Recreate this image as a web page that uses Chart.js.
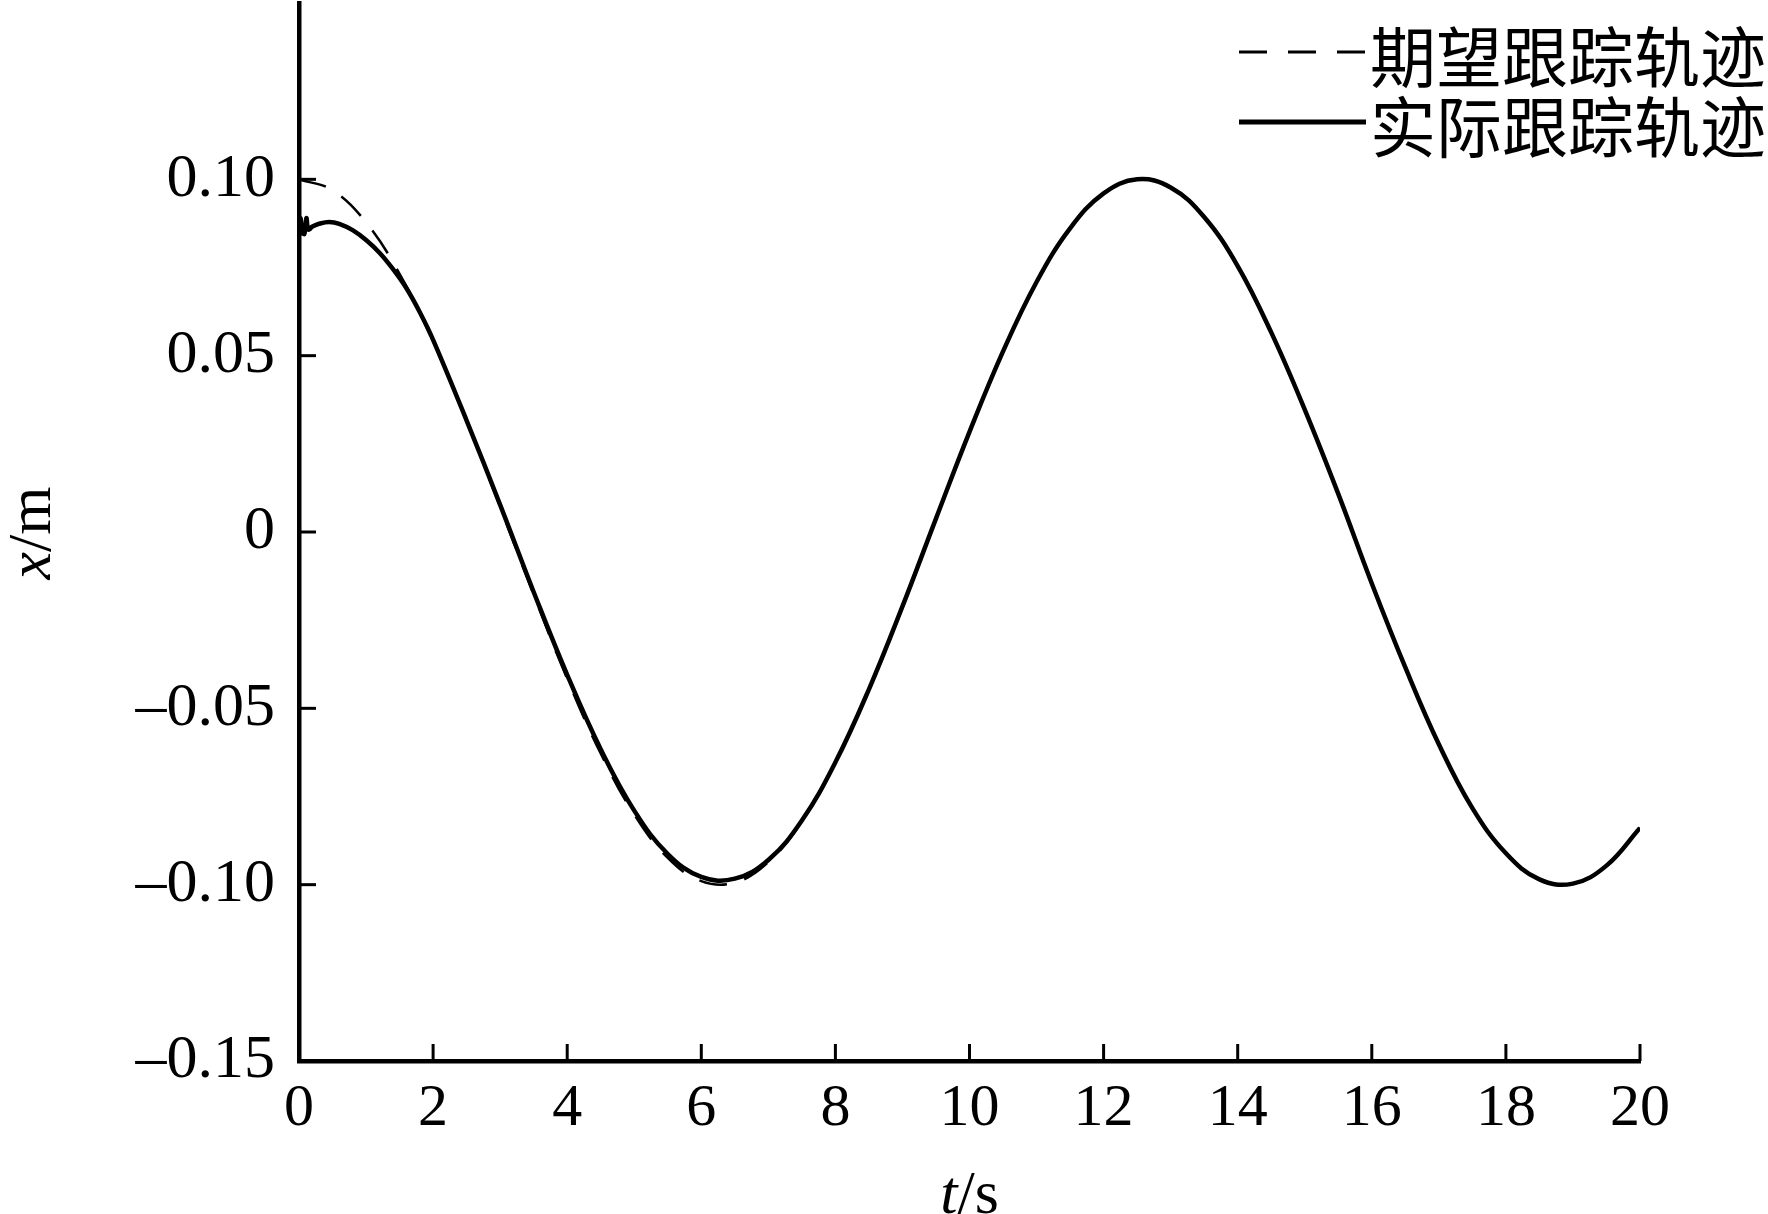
<!DOCTYPE html>
<html lang="zh">
<head>
<meta charset="utf-8">
<title>x 跟踪轨迹</title>
<script src="https://cdn.jsdelivr.net/npm/chart.js@4.4.1/dist/chart.umd.min.js"></script>
<style>
  html, body { margin: 0; padding: 0; background: #fff; }
  #wrap { width: 1768px; height: 1214px; }
</style>
</head>
<body>
<div id="wrap"><canvas id="trackChart" width="1768" height="1214"></canvas></div>
<script>
// desired trajectory (t in s, x in m)
const timeDesired = [0, 0.5, 1, 1.5, 2, 2.5, 3, 3.5, 4, 4.5, 5, 5.5, 6, 6.5, 7, 7.5, 8, 8.5, 9, 9.5,
    10, 10.5, 11, 11.5, 12, 12.5, 13, 13.5, 14, 14.5, 15, 15.5, 16, 16.5, 17, 17.5, 18, 18.5, 19, 19.5, 20];
const desiredX = [0.1000, 0.0969, 0.0878, 0.0732, 0.0540, 0.0315, 0.0071, -0.0178, -0.0416, -0.0628,
    -0.0801, -0.0924, -0.0990, -0.0994, -0.0936, -0.0821, -0.0654, -0.0446, -0.0211, 0.0038,
    0.0284, 0.0512, 0.0709, 0.0861, 0.0960, 0.1000, 0.0977, 0.0893, 0.0754, 0.0566,
    0.0347, 0.0108, -0.0146, -0.0384, -0.0602, -0.0783, -0.0911, -0.0985, -0.0997, -0.0946, -0.0839];

// actual trajectory (small wobble at start, then converges)
const timeActual = [0, 0.02, 0.05, 0.08, 0.11, 0.14, 0.2, 0.3, 0.45, 0.6, 0.8, 1.0, 1.2, 1.4, 1.6, 1.8,
    2, 2.5, 3, 3.5, 4, 4.5, 5, 5.5, 6, 6.5, 7, 7.5, 8, 8.5, 9, 9.5,
    10, 10.5, 11, 11.5, 12, 12.5, 13, 13.5, 14, 14.5, 15, 15.5, 16, 16.5, 17, 17.5, 18, 18.5, 19, 19.5, 20];
const actualX = [0.0840, 0.0890, 0.0850, 0.0845, 0.0890, 0.0858, 0.0866, 0.0874, 0.0879, 0.0874,
    0.0856, 0.0828, 0.0792, 0.0746, 0.0692, 0.0624,
    0.0545, 0.0316, 0.0077, -0.0170, -0.0405, -0.0616, -0.0790, -0.0913, -0.0978, -0.0983,
    -0.0930, -0.0818, -0.0653, -0.0446, -0.0211, 0.0038,
    0.0284, 0.0512, 0.0709, 0.0861, 0.0960, 0.1000, 0.0977, 0.0893, 0.0754, 0.0566,
    0.0347, 0.0108, -0.0146, -0.0384, -0.0602, -0.0783, -0.0911, -0.0985, -0.0997, -0.0946, -0.0839];

const seriesNames = ["期望跟踪轨迹", "实际跟踪轨迹"];
const tTicks = [0, 2, 4, 6, 8, 10, 12, 14, 16, 18, 20];
const xValueTicks = [-0.15, -0.10, -0.05, 0, 0.05, 0.10];

const serif = "'Liberation Serif', 'DejaVu Serif', serif";

function toPoints(ts, vs) {
    return ts.map((t, i) => ({ x: t, y: vs[i] }));
}

function fmtY(v) {
    if (Math.abs(v) < 1e-9) return "0";
    const s = Math.abs(v).toFixed(2);
    return v < 0 ? "\u2013" + s : s;
}

// inward tick marks on both axes
const innerTicks = {
    id: "innerTicks",
    afterDraw(chart) {
        const ctx = chart.ctx;
        const area = chart.chartArea;
        const xs = chart.scales.x, ys = chart.scales.y;
        ctx.save();
        ctx.strokeStyle = "#000";
        ctx.lineWidth = 3;
        xs.ticks.forEach(tk => {
            const px = xs.getPixelForValue(tk.value);
            ctx.beginPath();
            ctx.moveTo(px, area.bottom);
            ctx.lineTo(px, area.bottom - 17);
            ctx.stroke();
        });
        ys.ticks.forEach(tk => {
            const py = ys.getPixelForValue(tk.value);
            ctx.beginPath();
            ctx.moveTo(area.left, py);
            ctx.lineTo(area.left + 17, py);
            ctx.stroke();
        });
        ctx.restore();
    }
};

// axis titles with italic variable names
const axisTitles = {
    id: "axisTitles",
    afterDraw(chart) {
        const ctx = chart.ctx;
        const area = chart.chartArea;
        ctx.save();
        ctx.fillStyle = "#000";
        ctx.textBaseline = "alphabetic";
        // x axis: t/s
        const it = "italic 62px " + serif, nm = "62px " + serif;
        ctx.font = it; const w1 = ctx.measureText("t").width;
        ctx.font = nm; const w2 = ctx.measureText("/s").width;
        let x0 = (area.left + area.right) / 2 - (w1 + w2) / 2;
        ctx.font = it; ctx.fillText("t", x0, 1213);
        ctx.font = nm; ctx.fillText("/s", x0 + w1, 1213);
        // y axis: x/m
        ctx.translate(50, 533);
        ctx.rotate(-Math.PI / 2);
        ctx.font = it; const w3 = ctx.measureText("x").width;
        ctx.font = nm; const w4 = ctx.measureText("/m").width;
        x0 = -(w3 + w4) / 2;
        ctx.font = it; ctx.fillText("x", x0, 0);
        ctx.font = nm; ctx.fillText("/m", x0 + w3, 0);
        ctx.restore();
    }
};

// legend in the top-right corner, two rows
const cornerLegend = {
    id: "cornerLegend",
    afterDraw(chart) {
        const ctx = chart.ctx;
        chart.data.datasets.forEach((ds, i) => {
            const y = 57 + i * 70;
            ctx.save();
            ctx.strokeStyle = ds.borderColor;
            ctx.lineWidth = ds.borderDash ? 3 : 5;
            ctx.setLineDash(ds.borderDash ? [28, 21] : []);
            ctx.beginPath();
            ctx.moveTo(1239, y - 5);
            ctx.lineTo(1366, y - 5);
            ctx.stroke();
            ctx.setLineDash([]);
            ctx.fillStyle = "#000";
            ctx.font = "66px 'Noto Sans CJK SC'";
            ctx.textBaseline = "middle";
            ctx.fillText(ds.label, 1370, y);
            ctx.restore();
        });
    }
};

const ctx = document.getElementById("trackChart").getContext("2d");
new Chart(ctx, {
    type: "line",
    data: {
        datasets: [{
            label: seriesNames[0],
            data: toPoints(timeDesired, desiredX),
            borderColor: "#000",
            borderWidth: 2.5,
            borderDash: [28, 18],
            pointRadius: 0,
            tension: 0.4,
            order: 1
        }, {
            label: seriesNames[1],
            data: toPoints(timeActual, actualX),
            borderColor: "#000",
            borderWidth: 4.5,
            pointRadius: 0,
            tension: 0.4,
            order: 0
        }]
    },
    options: {
        responsive: false,
        animation: false,
        devicePixelRatio: 1,
        layout: { padding: { left: 0, right: 128, top: 3, bottom: 0 } },
        plugins: {
            legend: { display: false },
            tooltip: { enabled: false }
        },
        scales: {
            x: {
                type: "linear",
                min: 0,
                max: 20,
                afterBuildTicks: s => { s.ticks = tTicks.map(v => ({ value: v })); },
                afterFit: s => { s.height = 153; s.paddingLeft = 0; s.paddingRight = 0; },
                grid: { display: false, drawTicks: false },
                border: { display: true, color: "#000", width: 4.5 },
                ticks: {
                    color: "#000",
                    padding: 12,
                    maxRotation: 0,
                    font: { family: serif, size: 60 }
                }
            },
            y: {
                type: "linear",
                min: -0.15,
                max: 0.15,
                afterBuildTicks: s => { s.ticks = xValueTicks.map(v => ({ value: v })); },
                afterFit: s => { s.width = 299; s.paddingTop = 0; s.paddingBottom = 0; },
                grid: { display: false, drawTicks: false },
                border: { display: true, color: "#000", width: 4.5 },
                ticks: {
                    color: "#000",
                    padding: 24,
                    font: { family: serif, size: 62 },
                    callback: v => fmtY(v)
                }
            }
        }
    },
    plugins: [innerTicks, axisTitles, cornerLegend]
});
</script>
</body>
</html>
